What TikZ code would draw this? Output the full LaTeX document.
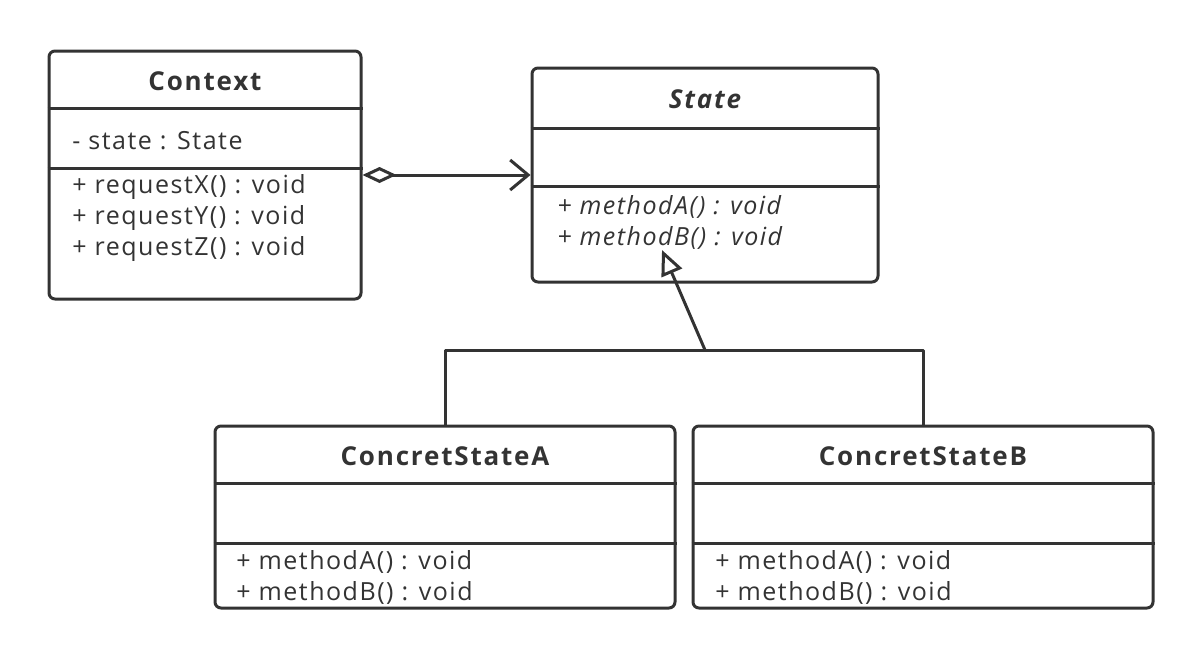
\documentclass[tikz,border=0pt]{standalone}
\usepackage{fontspec}
\setmainfont{Open Sans}
\newfontfamily\titlefont[LetterSpace=7]{Open Sans}
\newfontfamily\memberfont[LetterSpace=6]{Open Sans}
\usepackage{tikz}
\usetikzlibrary{calc,positioning,arrows.meta}
\definecolor{umlgray}{HTML}{333333}

\tikzset{
    classbox/.style={draw=umlgray, line width=1.5pt, rounded corners=3pt, inner sep=0pt},
    title/.style={font=\titlefont\bfseries\fontsize{13}{15}\selectfont, text=umlgray},
    member/.style={anchor=west, font=\memberfont\fontsize{12.5}{14}\selectfont, text=umlgray, inner sep=0pt},
    sepline/.style={draw=umlgray, line width=1.5pt},
}

\begin{document}
\begin{tikzpicture}[x=0.5pt, y=-0.5pt, line join=round]
    \useasboundingbox (0,0) rectangle (1203,659);

    % class boxes
    \node[classbox, minimum width=156pt, minimum height=124pt] (context) at (205,175) {};
    \node[classbox, minimum width=173pt, minimum height=107pt] (state) at (705,175) {};
    \node[classbox, minimum width=230pt, minimum height=91pt] (concA) at (445,517) {};
    \node[classbox, minimum width=230pt, minimum height=91pt] (concB) at (923,517) {};

    % compartments
    \draw[sepline] ($(context.north west)+(0,59)$) -- ($(context.north east)+(0,59)$);
    \draw[sepline] ($(context.north west)+(0,119)$) -- ($(context.north east)+(0,119)$);
    \draw[sepline] ($(state.north west)+(0,62)$) -- ($(state.north east)+(0,62)$);
    \draw[sepline] ($(state.north west)+(0,120)$) -- ($(state.north east)+(0,120)$);
    \foreach \c in {concA,concB} {
        \draw[sepline] ($(\c.north west)+(0,59)$) -- ($(\c.north east)+(0,59)$);
        \draw[sepline] ($(\c.north west)+(0,119)$) -- ($(\c.north east)+(0,119)$);
    }

    % titles
    \node[title] (contextname) at (205,81) {Context};
    \node[title] (statename) at (705,99) {\itshape State};
    \node[title] (concAname) at (445,456) {ConcretStateA};
    \node[title] (concBname) at (923,456) {ConcretStateB};

    % members
    \node[member] (cattr) at (72,141) {- state : State};
    \node[member] (creqx) at (72,187) {+ requestX() : void};
    \node[member] (creqy) at (72,218) {+ requestY() : void};
    \node[member] (creqz) at (72,249) {+ requestZ() : void};
    \node[member] (sma) at (557,207) {\itshape + methodA() : void};
    \node[member] (smb) at (557,238) {\itshape + methodB() : void};
    \node[member] (ama) at (236,562) {+ methodA() : void};
    \node[member] (amb) at (236,593) {+ methodB() : void};
    \node[member] (bma) at (715,562) {+ methodA() : void};
    \node[member] (bmb) at (715,593) {+ methodB() : void};

    % connectors
    \draw[sepline, {Diamond[open, fill=white, length=17pt, width=8pt]}-{Straight Barb[length=9pt, width=15pt]}]
        (context.east) -- (state.west);

    \coordinate (fork) at (705,350);
    \coordinate (tip) at (662,250);
    \draw[sepline] (concA.north) |- (fork) -| (concB.north);
    \draw[sepline, -{Triangle[open, fill=white, length=12.5pt, width=11pt]}] (fork) -- (tip);

\end{tikzpicture}
\end{document}
